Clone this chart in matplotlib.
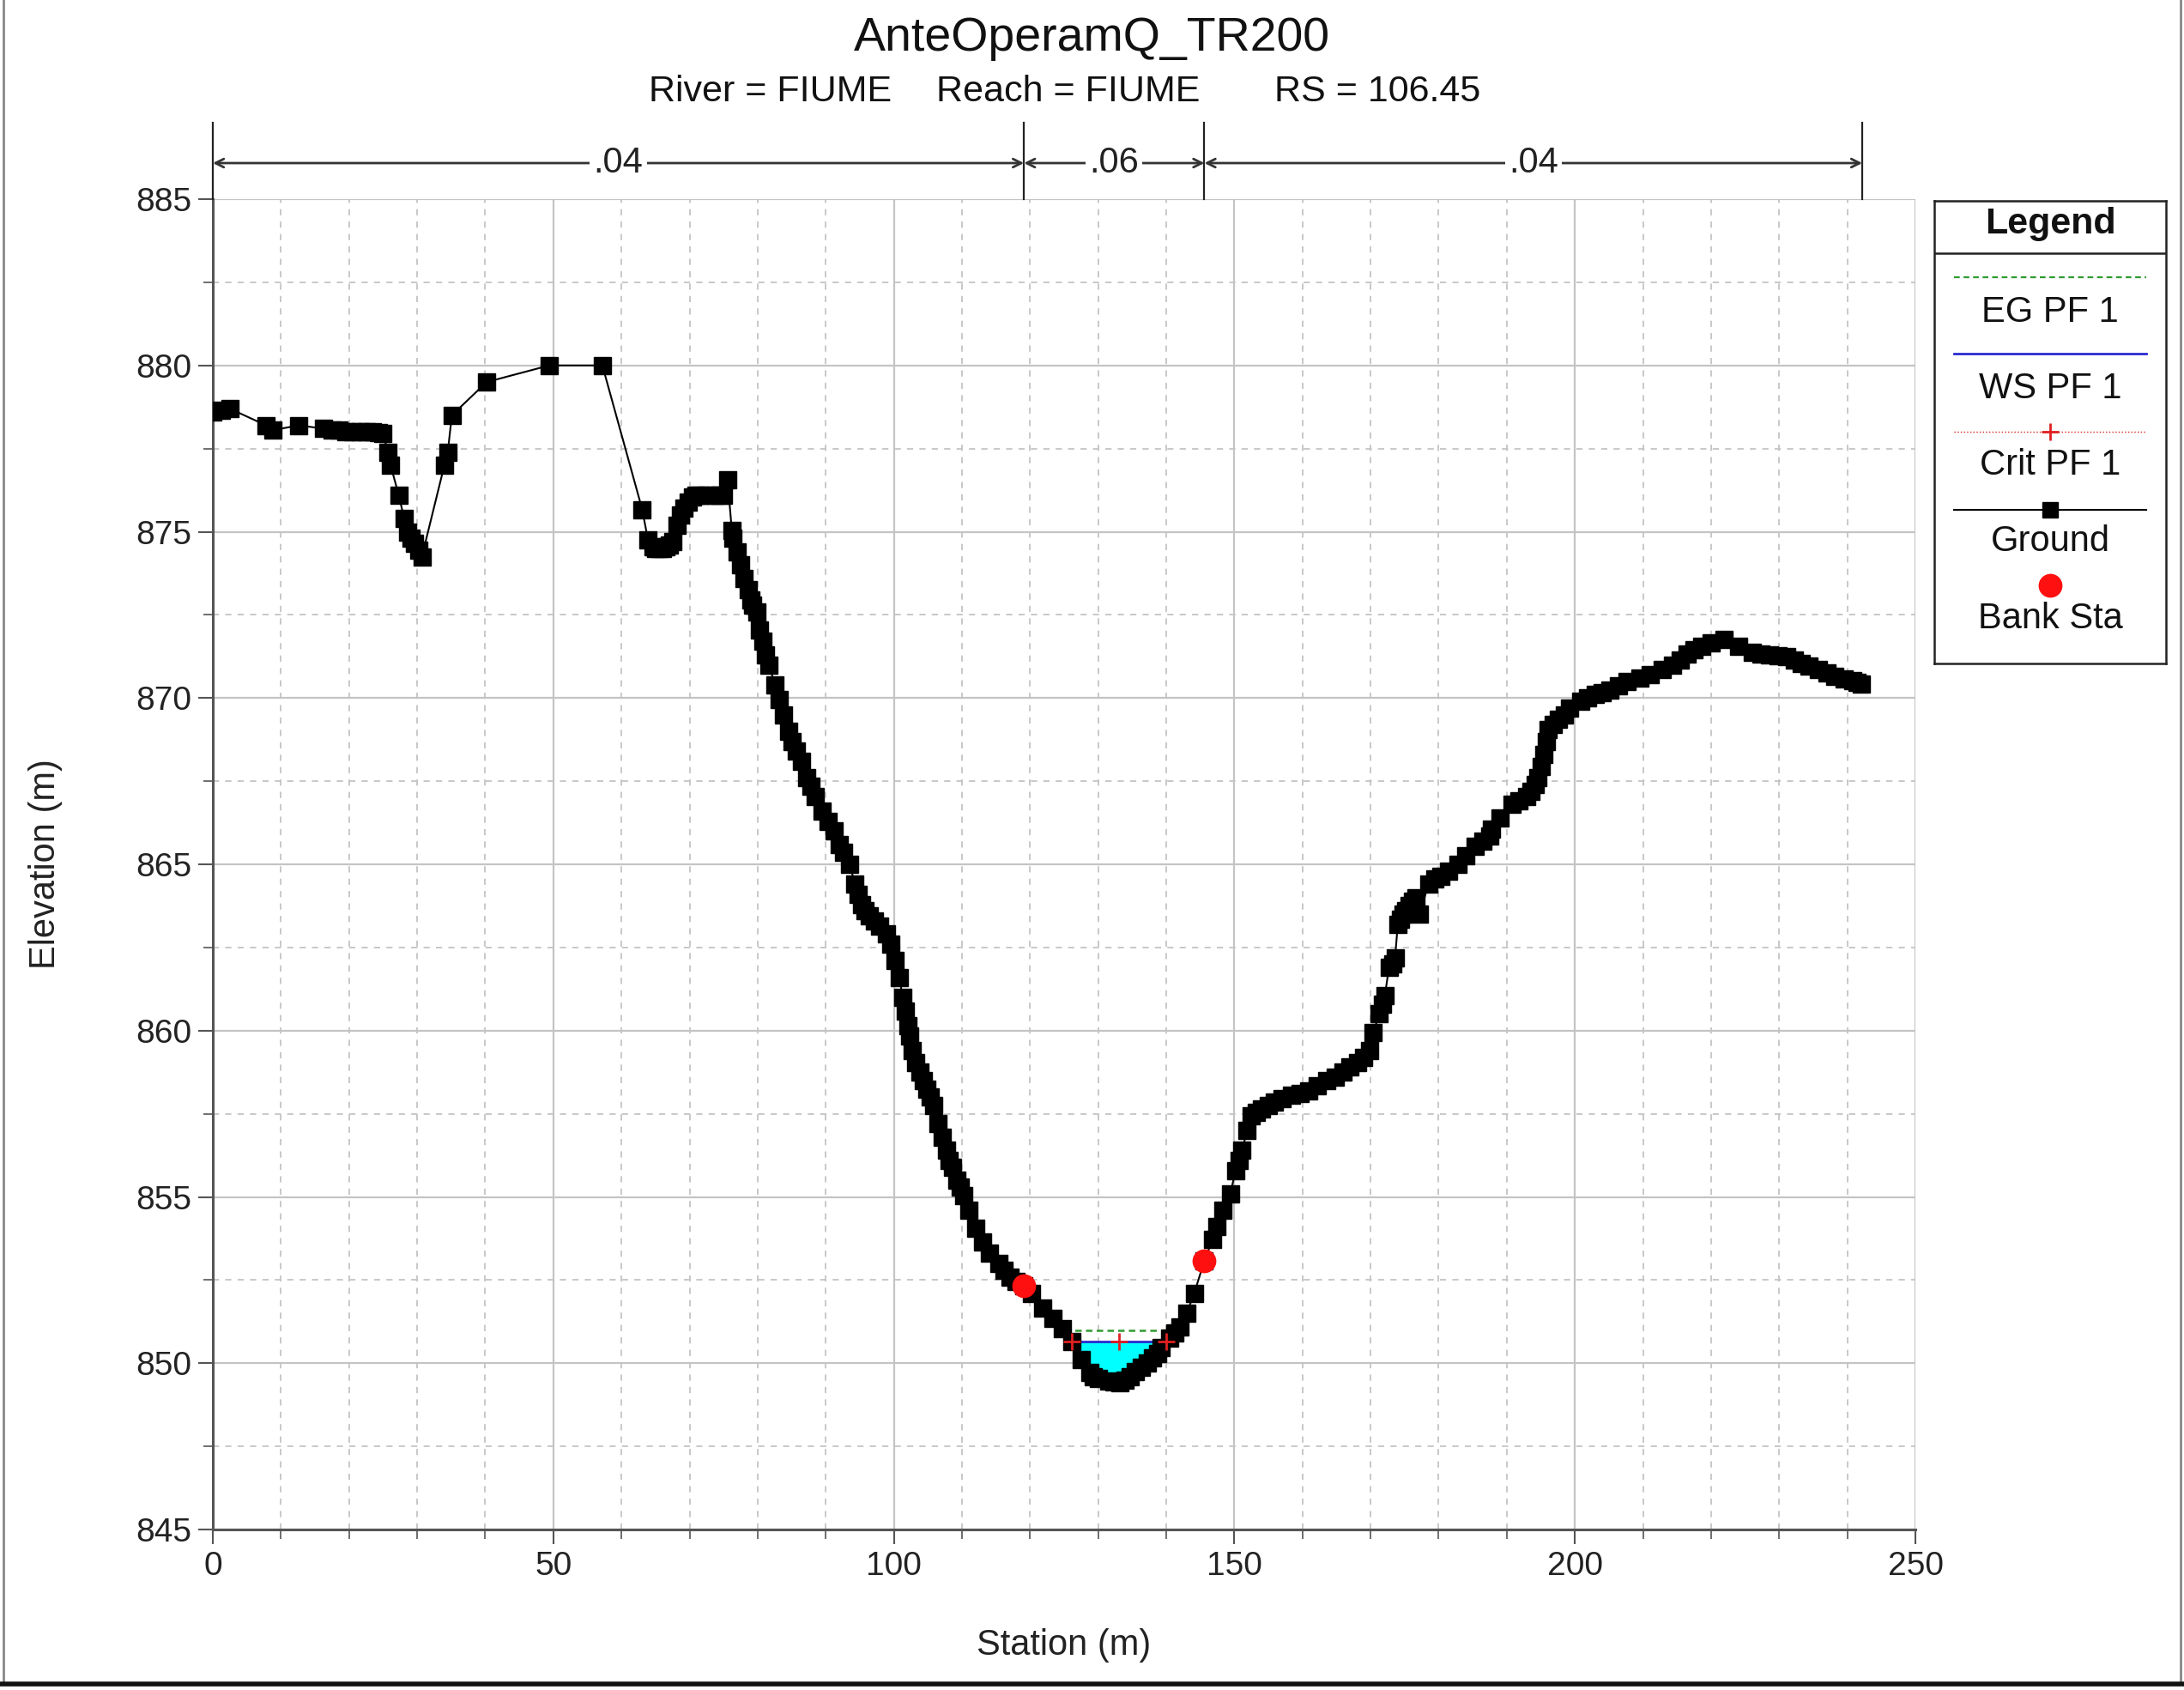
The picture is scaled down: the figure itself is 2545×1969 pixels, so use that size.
import numpy as np
import matplotlib
matplotlib.use('Agg')
import matplotlib.pyplot as plt
from matplotlib.ticker import MultipleLocator
import matplotlib.transforms as mtransforms
from matplotlib.lines import Line2D

plt.rcParams['font.family'] = ['Liberation Sans', 'DejaVu Sans']

# ---------------- data ----------------
station = [0.0, 1.2, 2.5, 7.8, 8.8, 12.6, 16.2, 17.5, 18.5, 19.5, 20.5, 21.7, 22.5, 23.5,
           24.3, 25.0, 25.7, 26.1, 27.3, 28.1, 28.6, 29.1, 29.6, 30.2, 30.7, 34.0, 34.5,
           35.1, 40.2, 49.4, 57.2,
           63.05, 63.9, 64.6, 65.0, 65.5, 66.0, 66.5, 67.0, 67.5, 68.2, 68.7, 69.2, 69.8,
           70.4, 71.0, 71.5, 72.5, 73.75, 74.5, 75.0,
           75.6, 76.2, 76.4, 77.0, 77.5, 78.0, 78.6, 79.0, 79.25, 79.9, 80.3, 80.8, 81.2,
           81.7, 82.5, 83.2, 83.8, 84.6, 85.0, 85.7,
           86.4, 87.2, 87.8, 88.5, 89.5, 90.3, 91.2, 92.0, 92.6, 93.5, 94.3, 94.8, 95.2,
           95.8, 96.4, 97.2, 97.9, 98.9, 99.5, 100.2,
           100.8, 101.3, 101.7, 102.1, 102.3, 102.7, 103.2, 103.8, 104.3, 104.8, 105.3,
           105.9, 106.5, 107.1, 107.7, 108.1,
           108.6, 109.2, 109.7, 110.3, 111.0, 112.0, 113.0, 114.1, 115.4, 116.2, 117.0,
           118.0, 119.1, 120.2, 121.9, 123.3,
           124.8, 126.1, 127.5, 128.8, 129.3, 130.0, 131.5, 132.3, 133.2, 134.0, 134.7,
           135.5, 136.4, 137.2, 138.0, 138.7, 139.3,
           140.5, 141.2, 142.0, 143.0, 144.1, 145.6, 146.8, 147.4, 148.3, 149.4, 150.2,
           150.7, 151.1, 151.9, 152.5, 153.2,
           154.0, 155.0, 155.9, 157.0, 158.4, 159.6, 160.9, 162.2, 163.5, 164.8, 166.0,
           167.0, 168.1, 169.0, 169.8, 170.4, 171.3, 171.7, 172.1,
           172.7, 173.2, 173.6, 174.0, 174.4, 174.8, 175.2, 175.7, 176.2, 176.7, 177.2,
           178.5, 179.4, 180.3, 181.5, 182.8, 184.0, 185.4, 186.5,
           187.5, 187.7, 189.0, 190.8, 191.8, 192.9, 193.6, 194.2, 194.6, 195.0, 195.5,
           195.8, 196.1, 196.8, 197.6, 198.4, 199.2, 200.9,
           201.9, 203.0, 204.0, 205.1, 206.4, 207.7, 209.5, 211.1, 212.8, 214.4, 215.5,
           216.5, 217.5, 218.6, 220.0, 221.9, 224.0, 226.1, 227.3, 228.6, 229.8, 231.1,
           232.2, 233.2, 234.4, 235.7, 237.0, 238.2, 239.5, 240.8, 241.4, 242.0]
ground = [878.6, 878.65, 878.7, 878.2, 878.05, 878.2, 878.1, 878.05, 878.05, 878.0, 878.0,
          878.0, 878.0, 878.0, 877.98, 877.95, 877.4, 877.0, 876.1, 875.4, 875.0, 874.8,
          874.65, 874.45, 874.25, 877.0, 877.4, 878.5, 879.5, 880.0, 880.0,
          875.67, 874.75, 874.55, 874.5, 874.5, 874.5, 874.55, 874.6, 874.7, 875.2, 875.5,
          875.7, 875.9, 876.05, 876.1, 876.1, 876.1, 876.1, 876.1, 876.1,
          876.55, 875.05, 874.8, 874.4, 874.0, 873.6, 873.25, 872.95, 872.8, 872.6, 872.05,
          871.7, 871.3, 871.0, 870.4, 869.95, 869.5, 869.0, 868.7, 868.4,
          868.1, 867.6, 867.35, 867.05, 866.6, 866.3, 866.0, 865.6, 865.35, 865.0, 864.4,
          864.1, 863.8, 863.6, 863.45, 863.3, 863.15, 862.9, 862.6, 862.1,
          861.6, 861.0, 860.6, 860.15, 859.85, 859.4, 859.05, 858.75, 858.5, 858.25, 858.0,
          857.75, 857.2, 856.8, 856.4, 856.1,
          855.9, 855.5, 855.3, 855.05, 854.6, 854.05, 853.65, 853.3, 853.0, 852.8, 852.6,
          852.45, 852.33, 852.1, 851.65, 851.35,
          851.05, 850.66, 850.1, 849.72, 849.6, 849.55, 849.47, 849.45, 849.42, 849.5, 849.6,
          849.75, 849.87, 850.0, 850.16, 850.3, 850.46,
          850.75, 850.9, 851.1, 851.5, 852.1, 853.08, 853.72, 854.1, 854.6, 855.1, 855.8,
          856.1, 856.4, 857.0, 857.45, 857.55,
          857.65, 857.75, 857.85, 857.95, 858.05, 858.12, 858.2, 858.35, 858.5, 858.6, 858.75,
          858.9, 859.05, 859.2, 859.4, 859.95, 860.5, 860.8, 861.05,
          861.9, 862.0, 862.2, 863.2, 863.35, 863.5, 863.6, 863.75, 863.9, 864.0, 863.5,
          864.4, 864.55, 864.65, 864.8, 865.0, 865.25, 865.55, 865.7,
          865.85, 866.05, 866.4, 866.8, 866.9, 867.05, 867.2, 867.4, 867.6, 867.95, 868.3,
          868.7, 869.05, 869.2, 869.35, 869.5, 869.7, 869.9,
          870.0, 870.1, 870.17, 870.25, 870.38, 870.5, 870.6, 870.7, 870.85, 871.0, 871.15,
          871.33, 871.45, 871.55, 871.65, 871.76, 871.55, 871.37, 871.33, 871.3, 871.27,
          871.25, 871.14, 871.03, 870.95, 870.86, 870.75, 870.64, 870.58, 870.51, 870.47,
          870.43]

bank_sta = [119.1, 145.6]
bank_elev = [852.33, 853.08]
ws_elev = 850.66
eg_elev = 851.0
crit_elev = 850.64
n_breaks = [0.0, 119.1, 145.6, 242.2]
n_values = ['.04', '.06', '.04']

title = 'AnteOperamQ_TR200'
sub_parts = ['River = FIUME', 'Reach = FIUME', 'RS = 106.45']

st = np.array(station)
gr = np.array(ground)
order = np.argsort(st, kind='stable')
st, gr = st[order], gr[order]

# channel portion between bank stations
ch = (st >= bank_sta[0]) & (st <= bank_sta[1])
st_ch, gr_ch = st[ch], gr[ch]


def crossings(level):
    below = gr_ch < level
    idx = np.where(below)[0]
    i0, i1 = idx[0], idx[-1]
    if i0 > 0:
        x0 = np.interp(level, [gr_ch[i0], gr_ch[i0 - 1]], [st_ch[i0], st_ch[i0 - 1]])
    else:
        x0 = st_ch[0]
    if i1 < len(st_ch) - 1:
        x1 = np.interp(level, [gr_ch[i1], gr_ch[i1 + 1]], [st_ch[i1], st_ch[i1 + 1]])
    else:
        x1 = st_ch[-1]
    return x0, x1


# ---------------- figure ----------------
W, H = 2545, 1969
fig = plt.figure(figsize=(W / 100, H / 100), dpi=100)
ax = fig.add_axes([248 / W, 1 - 1782 / H, (2232 - 248) / W, (1782 - 232) / H])

ax.set_xlim(0, 250)
ax.set_ylim(845, 885)
ax.xaxis.set_major_locator(MultipleLocator(50))
ax.xaxis.set_minor_locator(MultipleLocator(10))
ax.yaxis.set_major_locator(MultipleLocator(5))
ax.yaxis.set_minor_locator(MultipleLocator(2.5))

ax.grid(which='major', color='#c4c4c4', lw=1.6, ls='-', zorder=0)
ax.grid(which='minor', color='#c4c4c4', lw=1.3, ls=(0, (4, 4)), zorder=0)
ax.set_axisbelow(True)

for s in ['top', 'right']:
    ax.spines[s].set_visible(False)
for s in ['left', 'bottom']:
    ax.spines[s].set_color('#555555')
    ax.spines[s].set_linewidth(2.2)

ax.tick_params(which='major', direction='out', length=12, width=1.5,
               color='#555555', labelsize=28, pad=6)
ax.tick_params(which='minor', direction='out', length=8, width=1.2, color='#555555')
for lbl in ax.get_xticklabels() + ax.get_yticklabels():
    lbl.set_color('#222222')

ax.set_xlabel('Station (m)', fontsize=30, color='#222222')
ax.set_ylabel('Elevation (m)', fontsize=30, color='#222222')
ax.xaxis.set_label_coords(0.5, -0.074)
ax.yaxis.set_label_coords(-0.088, 0.5)

# water fill
x_ws0, x_ws1 = crossings(ws_elev)
ax.fill_between(st_ch, gr_ch, ws_elev, where=gr_ch <= ws_elev, interpolate=True,
                color='#00ffff', lw=0, zorder=2)

# EG line
x_eg0, x_eg1 = crossings(eg_elev)
ax.plot([x_eg0, x_eg1], [eg_elev, eg_elev], color='#2e9a2e', lw=1.8,
        ls=(0, (3, 2)), zorder=3)
# Crit line
x_cr0, x_cr1 = crossings(crit_elev)
ax.plot([x_cr0, x_cr1], [crit_elev, crit_elev], color='#e02020', lw=1.0,
        ls=':', zorder=3)
# WS line
ax.plot([x_ws0, x_ws1], [ws_elev, ws_elev], color='#2a2ad0', lw=2.0, zorder=4)

# Ground
ax.plot(st, gr, color='black', lw=1.5, marker='s', ms=14, zorder=6)
# Crit markers above ground
ax.plot([x_cr0, (x_cr0 + x_cr1) / 2, x_cr1], [crit_elev] * 3, ls='none',
        marker='+', ms=14, mew=2, color='#e02020', zorder=8)
# Bank stations
ax.plot(bank_sta, bank_elev, ls='none', marker='o', ms=19, color='#ff1010',
        mec='#ff1010', zorder=7)

# Manning's n bracket
trans = mtransforms.blended_transform_factory(ax.transData, ax.transAxes)
y_arrow = (1782 - 190) / 1550
y_top = (1782 - 143) / 1550
for b in n_breaks:
    ax.plot([b, b], [1.0, y_top], transform=trans, clip_on=False,
            color='#222222', lw=1.6, zorder=8)
for i, val in enumerate(n_values):
    b0, b1 = n_breaks[i], n_breaks[i + 1]
    ax.annotate('', xy=(b1, y_arrow), xytext=(b0, y_arrow), xycoords=trans,
                textcoords=trans, annotation_clip=False,
                arrowprops=dict(arrowstyle='<->,head_length=0.7,head_width=0.35',
                                lw=2.0, color='#333333', shrinkA=0, shrinkB=0))
    ax.text((b0 + b1) / 2, y_arrow, val, transform=trans, ha='center', va='center',
            fontsize=30, color='#222222',
            bbox=dict(facecolor='white', edgecolor='none', pad=3))

# Titles
fig.text(0.5, 1 - 45 / H, title, ha='center', va='center', fontsize=40, color='#111111')
sub_x = [756 / W, 1091 / W, 1485 / W]
for x, t in zip(sub_x, sub_parts):
    fig.text(x, 1 - 107 / H, t, ha='left', va='center', fontsize=31, color='#111111')

# Legend (drawn manually)
lx0, lx1, ly_top, ly_bot = 2254, 2524, 234, 773
lax = fig.add_axes([lx0 / W, 1 - ly_bot / H, (lx1 - lx0) / W, (ly_bot - ly_top) / H])
lax.set_xlim(0, 1)
lax.set_ylim(0, 1)
lax.set_xticks([])
lax.set_yticks([])
for s in lax.spines.values():
    s.set_color('#222222')
    s.set_linewidth(1.8)


def fy(p):
    return 1 - (p - ly_top) / (ly_bot - ly_top)


lax.text(0.5, fy(261), 'Legend', ha='center', va='center', fontsize=31,
         fontweight='bold', color='#111111')
lax.plot([0, 1], [fy(295), fy(295)], color='#222222', lw=1.8)
xs = [0.085, 0.915]
lax.plot(xs, [fy(323)] * 2, color='#2e9a2e', lw=1.6, ls=(0, (3, 2)))
lax.text(0.5, fy(364), 'EG PF 1', ha='center', va='center', fontsize=30, color='#111111')
lax.plot(xs, [fy(412)] * 2, color='#2a2ad0', lw=2.0)
lax.text(0.5, fy(453), 'WS PF 1', ha='center', va='center', fontsize=30, color='#111111')
lax.plot(xs, [fy(503)] * 2, color='#e02020', lw=1.0, ls=':')
lax.plot([0.5], [fy(503)], marker='+', ms=14, mew=2, color='#e02020')
lax.text(0.5, fy(542), 'Crit PF 1', ha='center', va='center', fontsize=30, color='#111111')
lax.plot(xs, [fy(594)] * 2, color='black', lw=1.5)
lax.plot([0.5], [fy(594)], marker='s', ms=13, color='black')
lax.text(0.5, fy(631), 'Ground', ha='center', va='center', fontsize=30, color='#111111')
lax.plot([0.5], [fy(682)], marker='o', ms=19, color='#ff1010')
lax.text(0.5, fy(721), 'Bank Sta', ha='center', va='center', fontsize=30, color='#111111')

# figure border
fig.add_artist(Line2D([0.0015, 0.0015], [0.004, 1], transform=fig.transFigure,
                      color='#888888', lw=2))
fig.add_artist(Line2D([0.9985, 0.9985], [0.004, 1], transform=fig.transFigure,
                      color='#888888', lw=2))
fig.add_artist(Line2D([0, 1], [0.0035, 0.0035], transform=fig.transFigure,
                      color='#111111', lw=4))

fig.savefig('out.png', dpi=100)
